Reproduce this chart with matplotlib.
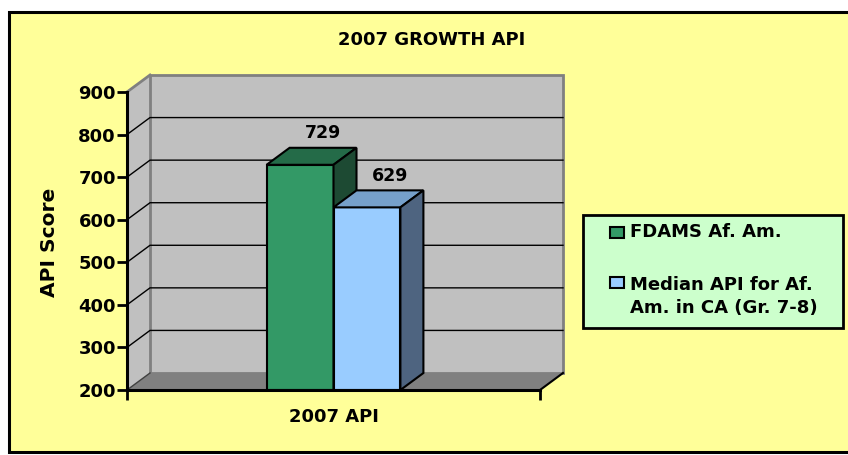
import matplotlib.pyplot as plt
from matplotlib.patches import Polygon, Rectangle

# chart data
categories = ["2007 API"]
series_names = ["FDAMS Af. Am.", "Median API for Af.\nAm. in CA (Gr. 7-8)"]
scores = [729, 629]
y_ticks = [200, 300, 400, 500, 600, 700, 800, 900]

front_colors = ["#339966", "#99CCFF"]
top_colors = ["#246B48", "#76A0CA"]
side_colors = ["#1D4A33", "#4E6480"]

W, H, DPI = 848, 455, 100
fig = plt.figure(figsize=(W / DPI, H / DPI), dpi=DPI, facecolor="white")

# yellow chart area with black frame (right edge runs off the picture)
fig.patches.append(Rectangle((9 / W, 3 / H), 845 / W, 440 / H, transform=fig.transFigure,
                             facecolor="#FFFF99", edgecolor="black", linewidth=2.2, zorder=-10))

ax = fig.add_axes([127 / W, 65 / H, 413 / W, 298 / H])
ax.set_zorder(1)
ax.set_xlim(0, 1)
ax.set_ylim(y_ticks[0], y_ticks[-1])
ax.patch.set_visible(False)

# depth of the fake 3d box, in data units
ddx = 23 / 413
ddy = 17 / 298 * (y_ticks[-1] - y_ticks[0])
lo, hi = y_ticks[0], y_ticks[-1]

# walls and floor
ax.add_patch(Polygon([(0, lo), (0, hi), (ddx, hi + ddy), (ddx, lo + ddy)],
                     facecolor="#C0C0C0", edgecolor="none", zorder=1, clip_on=False))
ax.add_patch(Rectangle((ddx, lo + ddy), 1, hi - lo, facecolor="#C0C0C0",
                       edgecolor="#808080", linewidth=2, zorder=1, clip_on=False))
ax.plot([0, ddx], [hi, hi + ddy], color="#808080", lw=2, zorder=1.5, clip_on=False)
ax.add_patch(Polygon([(0, lo), (1, lo), (1 + ddx, lo + ddy), (ddx, lo + ddy)],
                     facecolor="#808080", edgecolor="none", zorder=2, clip_on=False))
ax.plot([0, ddx], [lo, lo + ddy], color="#404040", lw=1, zorder=2, clip_on=False)
ax.plot([1, 1 + ddx], [lo, lo + ddy], color="black", lw=1.5, zorder=2, clip_on=False)

# gridlines on side and back wall
for y in y_ticks[1:-1]:
    ax.plot([0, ddx, 1 + ddx], [y, y + ddy, y + ddy], color="black", lw=1, zorder=2, clip_on=False)

# bars
bar_w = 0.162
lefts = [0.5 - bar_w, 0.5]
for i, (left, val) in enumerate(zip(lefts, scores)):
    z = 3 + i * 0.5
    ax.bar(left, val - lo, width=bar_w, bottom=lo, align="edge", color=front_colors[i],
           edgecolor="black", linewidth=1.5, zorder=z)
    right = left + bar_w
    ax.add_patch(Polygon([(left, val), (right, val), (right + ddx, val + ddy), (left + ddx, val + ddy)],
                         facecolor=top_colors[i], edgecolor="black", linewidth=1.5, zorder=z, clip_on=False))
    ax.add_patch(Polygon([(right, lo), (right + ddx, lo + ddy), (right + ddx, val + ddy), (right, val)],
                         facecolor=side_colors[i], edgecolor="black", linewidth=1.5, zorder=z, clip_on=False))
    ax.annotate(str(val), (left + bar_w / 2 + ddx, val + ddy), xytext=(0, 4), textcoords="offset points",
                ha="center", va="bottom", fontsize=12.5, fontweight="bold", zorder=5)

# axes styling
for s in ["top", "right"]:
    ax.spines[s].set_visible(False)
for s in ["left", "bottom"]:
    ax.spines[s].set_linewidth(2.2)
    ax.spines[s].set_zorder(6)

ax.set_yticks(y_ticks)
ax.set_yticklabels([str(t) for t in y_ticks], fontsize=13, fontweight="bold")
ax.tick_params(axis="y", direction="out", length=7, width=2, pad=1)

ax.set_xticks([0.5])
ax.set_xticklabels(categories, fontsize=13, fontweight="bold")
ax.set_xticks([0, 1], minor=True)
ax.tick_params(axis="x", which="major", length=0, pad=13)
ax.tick_params(axis="x", which="minor", direction="out", length=7, width=2)

ax.set_ylabel("API Score", fontsize=14.5, fontweight="bold")
ax.yaxis.set_label_coords(-0.164, 0.496)

fig.text(432 / W, 1 - 40 / H, "2007 GROWTH API", ha="center", va="center",
         fontsize=13, fontweight="bold")

# legend box
fig.patches.append(Rectangle((583 / W, 1 - 328 / H), 260 / W, 113 / H, transform=fig.transFigure,
                             facecolor="#CCFFCC", edgecolor="black", linewidth=2, zorder=1))
swatch_y = [238, 288]
text_y = [232, 296.5]
for i, name in enumerate(series_names):
    fig.patches.append(Rectangle((610 / W, 1 - swatch_y[i] / H), 14 / W, 11 / H, transform=fig.transFigure,
                                 facecolor=front_colors[i], edgecolor="black", linewidth=1.5, zorder=2))
    fig.text(630 / W, 1 - text_y[i] / H, name, ha="left", va="center", fontsize=13,
             fontweight="bold", linespacing=1.35, zorder=3)

fig.savefig("out.png", dpi=DPI)
